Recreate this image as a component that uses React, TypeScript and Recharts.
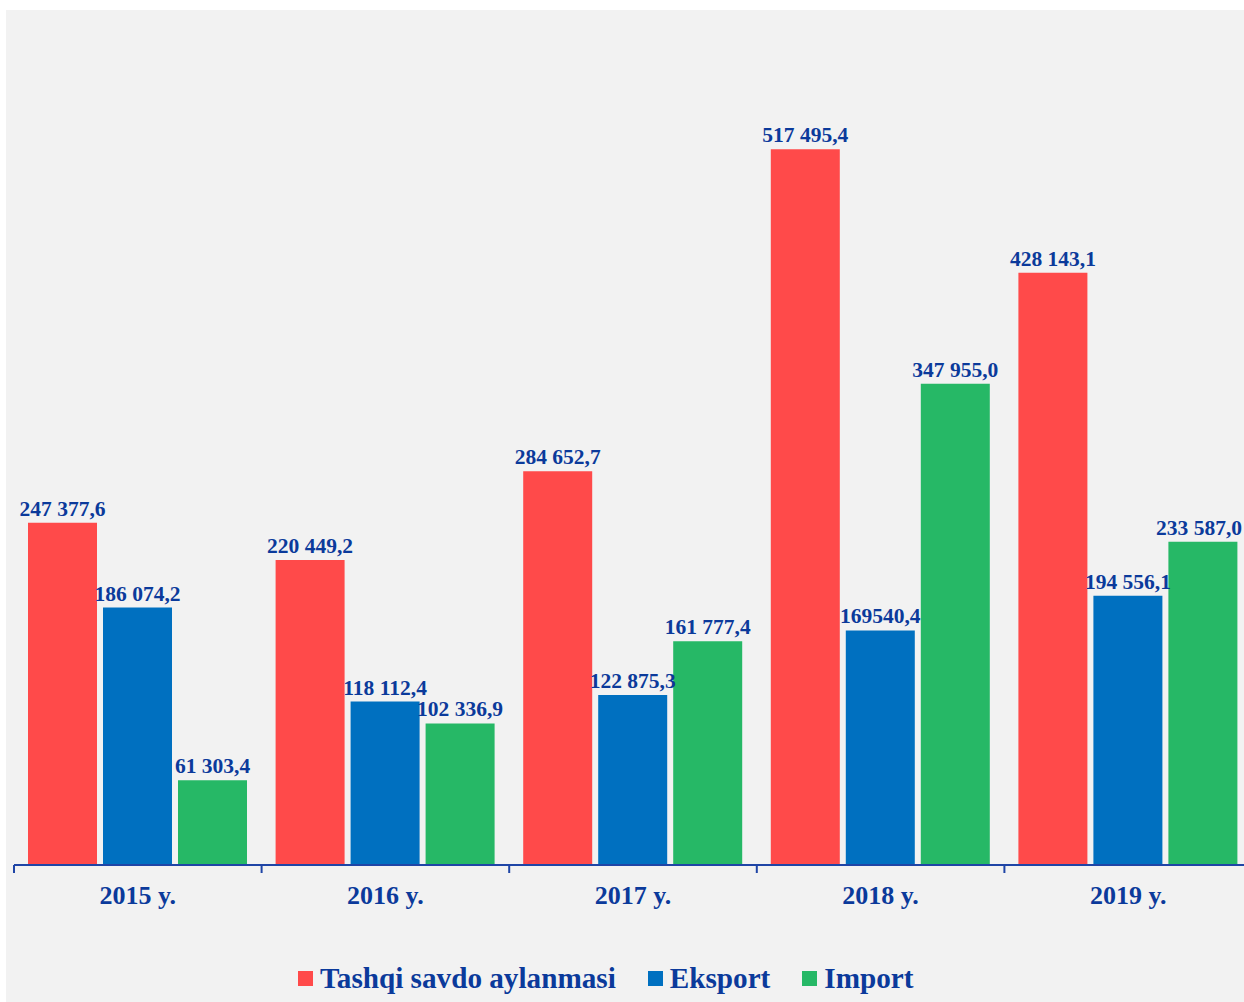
import React from "react";
import { BarChart, Bar, XAxis, YAxis, LabelList, Legend } from "recharts";

const categories = ["2015 y.", "2016 y.", "2017 y.", "2018 y.", "2019 y."];
const turnover = [247377.6, 220449.2, 284652.7, 517495.4, 428143.1];
const exportVals = [186074.2, 118112.4, 122875.3, 169540.4, 194556.1];
const importVals = [61303.4, 102336.9, 161777.4, 347955.0, 233587.0];
const turnoverLabels = ["247 377,6", "220 449,2", "284 652,7", "517 495,4", "428 143,1"];
const exportLabels = ["186 074,2", "118 112,4", "122 875,3", "169540,4", "194 556,1"];
const importLabels = ["61 303,4", "102 336,9", "161 777,4", "347 955,0", "233 587,0"];

const seriesNames = ["Tashqi savdo aylanmasi", "Eksport", "Import"];
const COLORS = ["#FF4A4A", "#0070C0", "#26B866"];
const TEXT = "#0b3a9b";
const AXIS = "#1f45a6";
const FONT = "'Liberation Serif', 'Times New Roman', serif";

const data = categories.map((c, i) => ({
  name: c,
  t: turnover[i],
  e: exportVals[i],
  im: importVals[i],
  tl: turnoverLabels[i],
  el: exportLabels[i],
  il: importLabels[i],
}));

const CHART_W = 1250;
const CHART_H = 992;
const LEGEND_H = 64;
const MARGIN = { top: 25, right: 4, bottom: 138 - LEGEND_H, left: 8 };
const PLOT_W = CHART_W - MARGIN.left - MARGIN.right;
const BAND = PLOT_W / categories.length;
const TICK_MARGIN = 21;
const LABEL_FS = 21.5;
const VISIBLE_RIGHT = 1236; // visible right edge inside the chart (window clip)

const CatTick = (props: any) => {
  const { x, y, payload, index } = props;
  const axisY = y - TICK_MARGIN;
  return (
    <g>
      <line x1={x - BAND / 2} x2={x - BAND / 2} y1={axisY} y2={axisY + 8} stroke={AXIS} strokeWidth={2} />
      {index === categories.length - 1 && (
        <line x1={x + BAND / 2} x2={x + BAND / 2} y1={axisY} y2={axisY + 8} stroke={AXIS} strokeWidth={2} />
      )}
      <text x={x} y={axisY + 39} textAnchor="middle" fill={TEXT} fontSize={26} fontWeight="bold" fontFamily={FONT}>
        {payload.value}
      </text>
    </g>
  );
};

const BarLabel = (props: any) => {
  const { x, y, width, value } = props;
  const str = String(value);
  const cx = Number(x) + Number(width) / 2;
  const halfW = str.length * LABEL_FS * 0.225;
  const overflow = cx + halfW > VISIBLE_RIGHT;
  return (
    <text
      x={overflow ? VISIBLE_RIGHT : cx}
      y={Number(y) - 7}
      textAnchor={overflow ? "end" : "middle"}
      fill={TEXT}
      fontSize={LABEL_FS}
      fontWeight="bold"
      fontFamily={FONT}
    >
      {str}
    </text>
  );
};

const LegendContent = () => (
  <div style={{ display: "flex", alignItems: "center", fontFamily: FONT, fontWeight: "bold", fontSize: 29.2, color: TEXT, whiteSpace: "nowrap", lineHeight: "normal" }}>
    {seriesNames.map((n, i) => (
      <div key={n} style={{ display: "flex", alignItems: "center", marginRight: i < seriesNames.length - 1 ? 32 : 0 }}>
        <span style={{ display: "inline-block", width: 15, height: 15, background: COLORS[i], marginRight: 7 }} />
        <span>{n}</span>
      </div>
    ))}
  </div>
);

export default function App() {
  return (
    <div style={{ position: "absolute", left: 0, top: 0, width: 1244, height: 1002, overflow: "hidden", background: "#ffffff" }}>
      <div style={{ position: "absolute", left: 6, top: 10, width: CHART_W, height: CHART_H, background: "#f2f2f2" }}>
        <BarChart width={CHART_W} height={CHART_H} data={data} margin={MARGIN} barCategoryGap={14} barGap={6}>
          <XAxis
            dataKey="name"
            axisLine={{ stroke: AXIS, strokeWidth: 2 }}
            tickLine={false}
            tickSize={0}
            tickMargin={TICK_MARGIN}
            tick={<CatTick />}
            interval={0}
          />
          <YAxis hide domain={[0, 600000]} />
          <Legend
            content={<LegendContent />}
            wrapperStyle={{ position: "absolute", left: 292, top: 952, width: "auto", bottom: "auto" }}
          />
          <Bar dataKey="t" name={seriesNames[0]} fill={COLORS[0]} isAnimationActive={false}>
            <LabelList dataKey="tl" content={<BarLabel />} />
          </Bar>
          <Bar dataKey="e" name={seriesNames[1]} fill={COLORS[1]} isAnimationActive={false}>
            <LabelList dataKey="el" content={<BarLabel />} />
          </Bar>
          <Bar dataKey="im" name={seriesNames[2]} fill={COLORS[2]} isAnimationActive={false}>
            <LabelList dataKey="il" content={<BarLabel />} />
          </Bar>
        </BarChart>
      </div>
    </div>
  );
}
